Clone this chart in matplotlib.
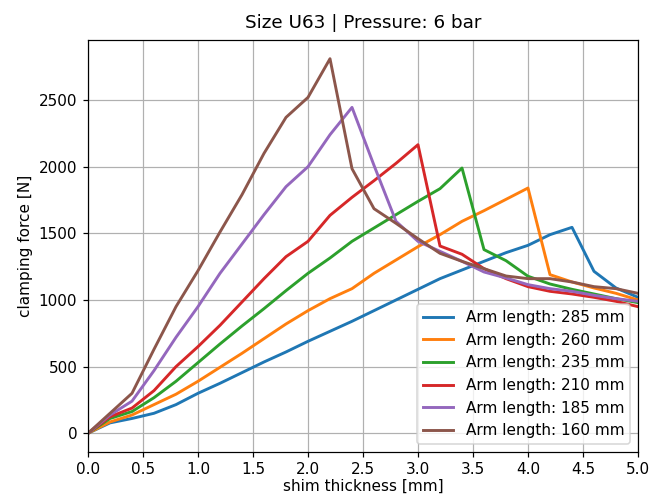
import numpy as np
import matplotlib
matplotlib.use('Agg')
import matplotlib.pyplot as plt

# толщина прокладки, шаг 0.2 мм
shim = [0.0, 0.2, 0.4, 0.6, 0.8, 1.0, 1.2, 1.4, 1.6, 1.8, 2.0, 2.2, 2.4,
        2.6, 2.8, 3.0, 3.2, 3.4, 3.6, 3.8, 4.0, 4.2, 4.4, 4.6, 4.8, 5.0]

arm_lengths = [285, 260, 235, 210, 185, 160]

force_285 = [0, 78, 111, 150, 215, 300, 375, 455, 535, 610, 690, 765, 840,
             920, 1000, 1080, 1160, 1225, 1290, 1355, 1410, 1490, 1545, 1215, 1090, 1020]
force_260 = [0, 85, 137, 215, 293, 390, 495, 600, 710, 820, 920, 1010, 1085,
             1200, 1300, 1400, 1490, 1590, 1670, 1755, 1840, 1190, 1135, 1090, 1050, 1000]
force_235 = [0, 111, 163, 267, 390, 530, 670, 805, 935, 1070, 1200, 1315, 1440,
             1540, 1640, 1740, 1835, 1990, 1378, 1295, 1178, 1120, 1080, 1045, 1010, 980]
force_210 = [0, 124, 189, 320, 500, 650, 810, 985, 1160, 1325, 1440, 1635, 1770,
             1895, 2025, 2165, 1405, 1343, 1235, 1160, 1100, 1065, 1045, 1020, 990, 950]
force_185 = [0, 137, 241, 470, 720, 950, 1200, 1420, 1640, 1850, 2000, 2240, 2445,
             2010, 1590, 1440, 1365, 1290, 1210, 1165, 1115, 1085, 1065, 1035, 1010, 990]
force_160 = [0, 150, 300, 630, 950, 1220, 1510, 1790, 2100, 2370, 2520, 2810, 1985,
             1685, 1575, 1460, 1350, 1290, 1235, 1180, 1160, 1160, 1135, 1100, 1085, 1050]

forces = [force_285, force_260, force_235, force_210, force_185, force_160]

# картинка 661x497 при dpi 110
fig = plt.figure(figsize=(661 / 110, 497 / 110), dpi=110)
ax = fig.add_axes([88 / 661, 1 - 452 / 497, 550 / 661, 412 / 497])

for length, f in zip(arm_lengths, forces):
    ax.plot(shim, f, lw=1.9, label=f'Arm length: {length} mm')

ax.set_xlim(0, 5)
ax.set_xticks(np.arange(0, 5.01, 0.5))
ax.tick_params(axis='x', pad=3)
ax.set_title('Size U63 | Pressure: 6 bar', pad=8)
ax.set_xlabel('shim thickness [mm]', labelpad=1)
ax.set_ylabel('clamping force [N]')
ax.legend(loc='lower right')
ax.grid()

fig.savefig('out.png', dpi=110)
